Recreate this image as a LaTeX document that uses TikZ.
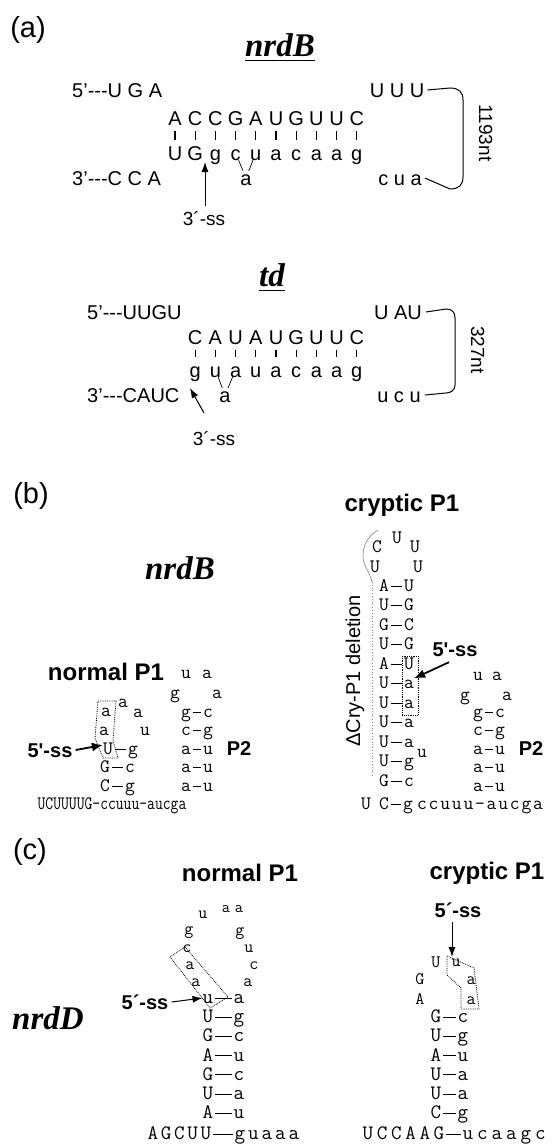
\documentclass[tikz,border=0pt]{standalone}
\usepackage{fontspec}
\usetikzlibrary{arrows.meta}
\newfontfamily\arialf{Liberation Sans}
\newfontfamily\timesf{Liberation Serif}
\begin{document}
\begin{tikzpicture}[x=1pt,y=-1pt,
  every node/.style={inner sep=0pt},
  panel/.style={font=\arialf\fontsize{29}{29}\selectfont},
  gene/.style={font=\timesf\bfseries\itshape\fontsize{33}{33}\selectfont},
  nt/.style={font=\arialf\fontsize{20}{20}\selectfont, text height=14pt, text depth=0pt},
  lab/.style={font=\arialf\bfseries\fontsize{24}{24}\selectfont},
  sslab/.style={font=\arialf\bfseries\fontsize{20}{20}\selectfont, text height=14pt, text depth=0pt},
  sst/.style={font=\arialf\fontsize{19}{19}\selectfont, text height=14pt, text depth=0pt},
  mb/.style={font=\ttfamily\fontsize{19}{19}\selectfont, text height=10pt, text depth=0pt},
  mc/.style={font=\ttfamily\fontsize{20.5}{20.5}\selectfont, text height=11pt, text depth=0pt},
  mloop/.style={font=\ttfamily\fontsize{17.5}{17.5}\selectfont, text height=10pt, text depth=0pt},
  msm/.style={font=\ttfamily\fontsize{16}{16}\selectfont, text height=9pt, text depth=0pt},
  tick/.style={line width=1.1pt, shorten <=6pt, shorten >=6pt},
  vee/.style={line width=0.7pt},
  bond/.style={line width=1pt, shorten <=2pt, shorten >=2pt},
  dotbox/.style={densely dotted, line width=0.8pt},
  brk/.style={line width=1pt},
  arr/.style={line width=1pt, -{Latex[length=10pt,width=7pt]}},
  boldarr/.style={line width=1.8pt, -{Latex[length=11pt,width=9pt]}},
]
\useasboundingbox[fill=white] (0,0) rectangle (554,1148);

%% ================= (a) nrdB =================
\node[panel] (pa) at (28,30) {(a)};
\node[gene] (ga) at (280,45) {nrdB};
\draw[line width=1.2pt] ([yshift=-4pt]ga.base west) -- ([yshift=-4pt]ga.base east);
\node[nt, anchor=west] (a5) at (72,90) {5’-{}-{}-U G A};
\node[nt] (a5r) at (397,90) {U U U};
\foreach \c [count=\i from 0] in {A,C,C,G,A,U,G,U,U,C}
  \node[nt] (aT\i) at ({175+20.2*\i},118) {\c};
\foreach \c [count=\i from 0] in {U,G,g,c,u,a,c,a,a,g}
  \node[nt] (aB\i) at ({175+20.2*\i},153) {\c};
\foreach \i in {0,...,9} \draw[tick] (aT\i) -- (aB\i);
\node[nt] (abul) at (246,178) {a};
\draw[vee] (aB3) -- (abul);
\draw[vee] (aB4) -- (abul);
\node[nt, anchor=west] (a3) at (72,178) {3’-{}-{}-C C A};
\node[nt] (a3r) at (400,178) {c u a};
\node[sst] (ass) at (204,218) {3´-ss};
\coordinate (atail) at (205,206);
\coordinate (atip) at (205,162);
\draw[arr] (atail) -- (atip);
\draw[brk] ([xshift=3pt]a5r.east) -- (450,88) .. controls (459,88) and (463,92) .. (463,100)
  -- (463,177) .. controls (463,185) and (459,189) .. (450,189) -- ([xshift=3pt]a3r.east);
\node[sst, rotate=-90] (alen) at (486,133) {1193nt};

%% ================= (a) td =================
\node[gene] (gb) at (272,275) {td};
\draw[line width=1.2pt] ([yshift=-4pt]gb.base west) -- ([yshift=-4pt]gb.base east);
\node[nt, anchor=west] (b5) at (87,312) {5’-{}-{}-UUGU};
\node[nt] (b5r) at (398,312) {U AU};
\foreach \c [count=\i from 1] in {C,A,U,A,U,G,U,U,C}
  \node[nt] (bT\i) at ({175+20.2*\i},337) {\c};
\foreach \c [count=\i from 1] in {g,u,a,u,a,c,a,a,g}
  \node[nt] (bB\i) at ({175+20.2*\i},370) {\c};
\foreach \i in {1,...,9} \draw[tick] (bT\i) -- (bB\i);
\node[nt] (bbul) at (225,395) {a};
\draw[vee] (bB2) -- (bbul);
\draw[vee] (bB3) -- (bbul);
\node[nt, anchor=west] (b3) at (87,395) {3’-{}-{}-CAUC};
\node[nt] (b3r) at (399,395) {u c u};
\node[sst] (bss) at (214,438) {3´-ss};
\coordinate (btail) at (204,413);
\coordinate (btip) at (190,388);
\draw[arr] (btail) -- (btip);
\draw[brk] ([xshift=4pt]b5r.east) -- (446,309) .. controls (452,309) and (455,312) .. (455,318)
  -- (455,385) .. controls (455,390) and (451,393) .. (446,393) -- ([xshift=4pt]b3r.east);
\node[sst, rotate=-90] (blen) at (478,350) {327nt};

%% ================= (b) =================
\node[panel] (pb) at (31,496) {(b)};
\node[gene] (gc) at (180,568) {nrdB};
\node[lab] (lnorm) at (106,672) {normal P1};
\node[lab] (lcry) at (402,505) {cryptic P1};

% normal P1: P2 hairpin
\node[mb] (qlu) at (186,673) {u};
\node[mb] (qla) at (207,673) {a};
\node[mb] (qlg) at (175,693) {g};
\node[mb] (qlb) at (217,693) {a};
\foreach \ca/\cb/\y [count=\k] in {g/c/712,c/g/730.5,a/u/749,a/u/767.5,a/u/786}{
  \node[mb] (qL\k) at (186,\y) {\ca};
  \node[mb] (qR\k) at (208,\y) {\cb};
  \draw[bond] (qL\k) -- (qR\k);}
\node[sslab] (qP2) at (239,748) {P2};

% normal P1 hairpin
\node[mb] (na1) at (106,711) {a};
\node[mb] (na2) at (123,702) {a};
\node[mb] (na3) at (138,712) {a};
\node[mb] (na4) at (104,730) {a};
\node[mb] (nu1) at (145,730) {u};
\foreach \ca/\cb/\y/\x [count=\k] in {U/g/749/108,G/c/767.5/105,C/g/786/105}{
  \node[mb] (nL\k) at (\x,\y) {\ca};
  \node[mb] (nR\k) at (\x+25,\y) {\cb};
  \draw[bond] (nL\k) -- (nR\k);}
\node[mb, xscale=0.8] (nbot) at (112,804) {UCUUUUG-ccuuu-aucga};
\draw[dotbox] (98,701) -- (116,701) -- (113,740) -- (118,758) -- (103,758) -- (95,738) -- cycle;
\node[sslab] (nss) at (50,750) {5'-ss};
\draw[boldarr] ([xshift=3pt]nss.east) -- ([yshift=4pt]nL1.west);

% cryptic P1 hairpin
\node[mb] (cl1) at (377,547) {C};
\node[mb] (cl2) at (397,538) {U};
\node[mb] (cl3) at (415,547) {U};
\node[mb] (cl4) at (375,567) {U};
\node[mb] (cl5) at (418,567) {U};
\foreach \ca/\cb [count=\k from 0] in {A/U,U/G,G/C,U/G,A/U,U/a,U/a,U/a,U/a,U/g,G/c}{
  \node[mb] (cL\k) at (384,{586+19.5*\k}) {\ca};
  \node[mb] (cR\k) at (409,{586+19.5*\k}) {\cb};
  \draw[bond] (cL\k) -- (cR\k);}
\node[mb] (cbu) at (422,752) {u};
\node[mb] (cbU) at (366,804) {U};
\node[mb] (cbC) at (384,804) {C};
\node[mb] (cbg) at (408,804) {g};
\draw[bond] (cbC) -- (cbg);
\foreach \c [count=\i from 0] in {c,c,u,u,u,-,a,u,c,g,a}
  \node[mb] (cbt\i) at ({422+11.6*\i},804) {\c};
\draw[dotbox] (402,656) rectangle (418,715);
\node[sslab] (css) at (455,649) {5'-ss};
\draw[boldarr] ([shift={(-6pt,-6pt)}]css.south) -- (cR5.north east);

% cryptic P1: P2 hairpin
\node[mb] (rlu) at (478,675) {u};
\node[mb] (rla) at (497,675) {a};
\node[mb] (rlg) at (465,695) {g};
\node[mb] (rlb) at (507,695) {a};
\foreach \ca/\cb/\y [count=\k] in {g/c/712,c/g/730.5,a/u/749,a/u/767.5,a/u/786}{
  \node[mb] (rL\k) at (478,\y) {\ca};
  \node[mb] (rR\k) at (500,\y) {\cb};
  \draw[bond] (rL\k) -- (rR\k);}
\node[sslab] (rP2) at (531,748) {P2};

% deleted segment marker
\node[font=\arialf\fontsize{20}{20}\selectfont, rotate=90] (del) at (355,671) {ΔCry-P1 deletion};
\coordinate (dtop) at (378,530);
\coordinate (dmid) at (372,582);
\coordinate (dend) at (372,776);
\draw[gray, line width=0.6pt] (dtop) .. controls (368,536) and (363,545) .. (363,556)
  .. controls (363,566) and (370,572) .. (dmid);
\draw[gray, dotted, line width=0.8pt] (dmid) -- (dend);

%% ================= (c) nrdD =================
\node[panel] (pc) at (30,852) {(c)};
\node[gene] (gd) at (48,1018) {nrdD};
\node[lab] (mnorm) at (240,873) {normal P1};
\node[lab] (mcry) at (487,873) {cryptic P1};

% normal P1
\foreach \c/\x/\y [count=\k] in {a/196/981,a/190/964,c/187/947,g/189/929,u/203/913,g/240/930,u/249/947,c/254/964,a/248/981}
  \node[mloop] (mo\k) at (\x,\y) {\c};
\node[msm] (mt1) at (226,908) {a};
\node[msm] (mt2) at (239,908) {a};
\foreach \ca/\cb [count=\k from 0] in {u/a,U/g,G/c,A/u,G/c,U/a,A/u}{
  \node[mc] (mL\k) at (208,{998+19.2*\k}) {\ca};
  \node[mc] (mR\k) at (239,{998+19.2*\k}) {\cb};
  \draw[bond] (mL\k) -- (mR\k);}
\foreach \c [count=\i from 0] in {A,G,C,U,U}
  \node[mc] (mbl\i) at ({153+13.2*\i},1134) {\c};
\foreach \c [count=\i from 0] in {g,u,a,a,a}
  \node[mc] (mbr\i) at ({240+13.5*\i},1134) {\c};
\draw[bond] (mbl4) -- (mbr0);
\draw[dotbox] (170,957) -- (185,947) -- (228,997) -- (210,1008) -- cycle;
\node[sslab] (mss) at (145,1002) {5´-ss};
\draw[arr] ([xshift=3pt]mss.east) -- (mL0.west);

% cryptic P1
\foreach \c/\x/\y [count=\k] in {A/420/999,G/420/979,U/436/962,u/456/961,a/471/979,a/471/999}
  \node[mloop] (ko\k) at (\x,\y) {\c};
\foreach \ca/\cb [count=\k from 1] in {G/c,U/g,A/u,U/a,U/a,C/g}{
  \node[mc] (kL\k) at (436,{998+19.2*\k}) {\ca};
  \node[mc] (kR\k) at (463,{998+19.2*\k}) {\cb};
  \draw[bond] (kL\k) -- (kR\k);}
\foreach \c [count=\i from 0] in {U,C,C,A,A,G}
  \node[mc] (kbl\i) at ({368+14.2*\i},1134) {\c};
\foreach \c [count=\i from 0] in {u,c,a,a,g,c}
  \node[mc] (kbr\i) at ({468+14.5*\i},1134) {\c};
\draw[bond] (kbl5) -- (kbr0);
\draw[dotbox] (447,956) -- (474,968) -- (479,1009) -- (461,1009) -- (461,988) -- (447,975) -- cycle;
\node[sslab] (kss) at (458,910) {5´-ss};
\coordinate (ktail) at (452,922);
\coordinate (ktip) at (452,957);
\draw[arr] (ktail) -- (ktip);
\end{tikzpicture}
\end{document}
